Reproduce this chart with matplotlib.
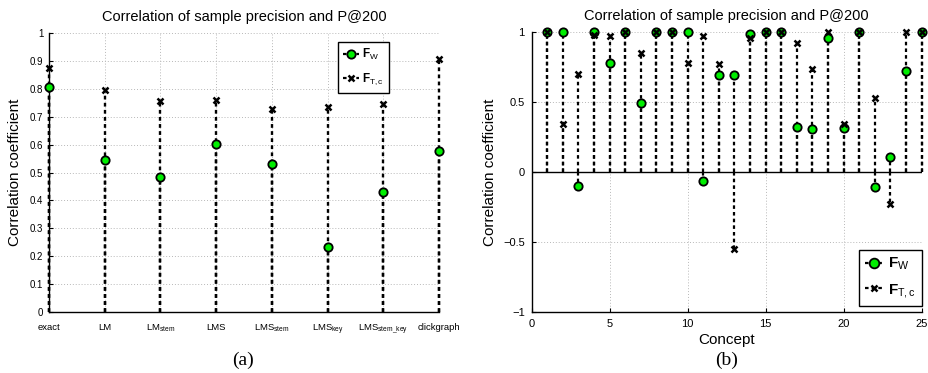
import numpy as np
import matplotlib
matplotlib.use('Agg')
import matplotlib.pyplot as plt
from matplotlib.lines import Line2D
from matplotlib.legend_handler import HandlerLine2D

# ---------------- data ----------------
methods = ['exact', 'LM', r'LM$_{\mathrm{stem}}$', 'LMS', r'LMS$_{\mathrm{stem}}$',
           r'LMS$_{\mathrm{key}}$', r'LMS$_{\mathrm{stem\_key}}$', 'clickgraph']
fw_methods = [0.807, 0.545, 0.484, 0.603, 0.531, 0.231, 0.431, 0.577]
ftc_methods = [0.876, 0.796, 0.757, 0.762, 0.727, 0.736, 0.747, 0.909]

concepts = list(range(1, 26))
fw_concepts = [1.0, 1.0, -0.10, 1.0, 0.779, 1.0, 0.495, 1.0, 1.0, 1.0,
               -0.067, 0.695, 0.695, 0.988, 1.0, 1.0, 0.319, 0.31, 0.957, 0.314,
               1.0, -0.107, 0.105, 0.726, 1.0]
ftc_concepts = [1.0, 0.343, 0.702, 0.98, 0.971, 1.0, 0.852, 1.0, 1.0, 0.78,
                0.971, 0.771, -0.549, 0.957, 1.0, 1.0, 0.926, 0.736, 1.0, 0.343,
                1.0, 0.531, -0.229, 1.0, 1.0]

title = 'Correlation of sample precision and P@200'
ylabel = 'Correlation coefficient'
labels = [r'$\mathbf{F}_{\mathrm{W}}$', r'$\mathbf{F}_{\mathrm{T,c}}$']

# ---------------- style ----------------
plt.rcParams['font.family'] = ['Liberation Sans', 'DejaVu Sans']
plt.rcParams['mathtext.fontset'] = 'custom'
plt.rcParams['mathtext.rm'] = 'Liberation Sans'
plt.rcParams['mathtext.it'] = 'Liberation Sans:italic'
plt.rcParams['mathtext.bf'] = 'Liberation Sans:bold'
plt.rcParams['axes.unicode_minus'] = True

GREEN = '#00ee00'
DASH = (0, (1.6, 1.4))
GRID = dict(color='#b8b8b8', linestyle=(0, (1, 2)), linewidth=0.7)

fig = plt.figure(figsize=(9.29, 3.73), dpi=100)
axL = fig.add_axes([0.0527, 0.1643, 0.4199, 0.7464])
axR = fig.add_axes([0.5723, 0.1643, 0.4198, 0.7491])


def draw_stems(ax, x, fw, ftc, ms_o=6, ms_x=4.5, lw=1.6):
    ax.vlines(x, 0, fw, colors='k', linestyles=DASH, linewidth=lw, zorder=3,
              clip_on=False)
    ax.plot(x, fw, ls='none', marker='o', mfc=GREEN, mec='k', mew=1.3,
            ms=ms_o, zorder=8, clip_on=False)
    ax.vlines(x, 0, ftc, colors='k', linestyles=DASH, linewidth=lw, zorder=5,
              clip_on=False)
    ax.plot(x, ftc, ls='none', marker='x', color='k', mew=1.8, ms=ms_x, zorder=9,
            clip_on=False)


class StemHandler(HandlerLine2D):
    def get_xdata(self, legend, xdescent, ydescent, width, height, fontsize):
        xdata = np.array([-xdescent, -xdescent + width])
        return xdata, np.array([-xdescent + width])


def make_handles(ms_o, ms_x):
    h1 = Line2D([], [], color='k', ls=DASH, lw=1.6, marker='o', mfc=GREEN,
                mec='k', mew=1.3, ms=ms_o)
    h2 = Line2D([], [], color='k', ls=DASH, lw=1.6, marker='x', mec='k',
                mew=1.8, ms=ms_x)
    return h1, h2


def style_axes(ax):
    for s in ['top', 'right']:
        ax.spines[s].set_visible(False)
    for s in ['left', 'bottom']:
        ax.spines[s].set_linewidth(1.0)
        ax.spines[s].set_zorder(7)
    ax.grid(True, **GRID)
    ax.set_axisbelow(True)


# ---------------- left panel ----------------
xpos = np.arange(1, len(methods) + 1)
draw_stems(axL, xpos, fw_methods, ftc_methods, lw=1.7)
axL.set_xlim(1, len(methods))
axL.set_ylim(0, 1)
axL.set_xticks(xpos)
axL.set_xticklabels(methods, fontsize=6.8)
axL.set_yticks(np.linspace(0, 1, 11))
axL.set_yticklabels(['0', '0.1', '0.2', '0.3', '0.4', '0.5', '0.6', '0.7', '0.8', '0.9', '1'])
axL.tick_params(axis='y', labelsize=7, direction='in', length=3, pad=4)
axL.tick_params(axis='x', direction='in', length=0, pad=8)
style_axes(axL)
axL.set_title(title, fontsize=10.5, pad=9)
axL.set_ylabel(ylabel, fontsize=11, labelpad=6)
h1, h2 = make_handles(6, 4.5)
legL = axL.legend([h1, h2], labels, handler_map={h1: StemHandler(), h2: StemHandler()},
                  loc='upper left', bbox_to_anchor=(0.741, 0.969), fontsize=8.5,
                  fancybox=False, framealpha=1, edgecolor='k', handlelength=1.3,
                  handletextpad=0.3, borderpad=0.45, labelspacing=0.8, borderaxespad=0)
legL.get_frame().set_linewidth(1.0)
legL.set_zorder(10)

# ---------------- right panel ----------------
axR.axhline(0, color='k', linewidth=1.0, zorder=2)
draw_stems(axR, concepts, fw_concepts, ftc_concepts, lw=1.6)
axR.set_xlim(0, 25)
axR.set_ylim(-1, 1)
axR.set_xticks([0, 5, 10, 15, 20, 25])
axR.set_yticks([-1, -0.5, 0, 0.5, 1])
axR.set_yticklabels(['\u22121', '\u22120.5', '0', '0.5', '1'])
axR.tick_params(labelsize=8, direction='in', length=3, pad=5)
style_axes(axR)
axR.set_title(title, fontsize=10.5, pad=9)
axR.set_ylabel(ylabel, fontsize=11, labelpad=4)
axR.set_xlabel('Concept', fontsize=11, labelpad=3)
h3, h4 = make_handles(7, 5)
legR = axR.legend([h3, h4], labels, handler_map={h3: StemHandler(), h4: StemHandler()},
                  loc='lower right', bbox_to_anchor=(1.0, 0.0215), fontsize=11,
                  fancybox=False, framealpha=1, edgecolor='k', handlelength=1.2,
                  handletextpad=0.3, borderpad=0.4, labelspacing=0.6, borderaxespad=0)
legR.get_frame().set_linewidth(1.0)
legR.set_zorder(10)

# ---------------- captions ----------------
fig.text(243 / 929, 1 - 360 / 373, '(a)', ha='center', va='center',
         fontsize=14, family='Liberation Serif')
fig.text(727 / 929, 1 - 360 / 373, '(b)', ha='center', va='center',
         fontsize=14, family='Liberation Serif')

fig.savefig('out.png', dpi=100)
